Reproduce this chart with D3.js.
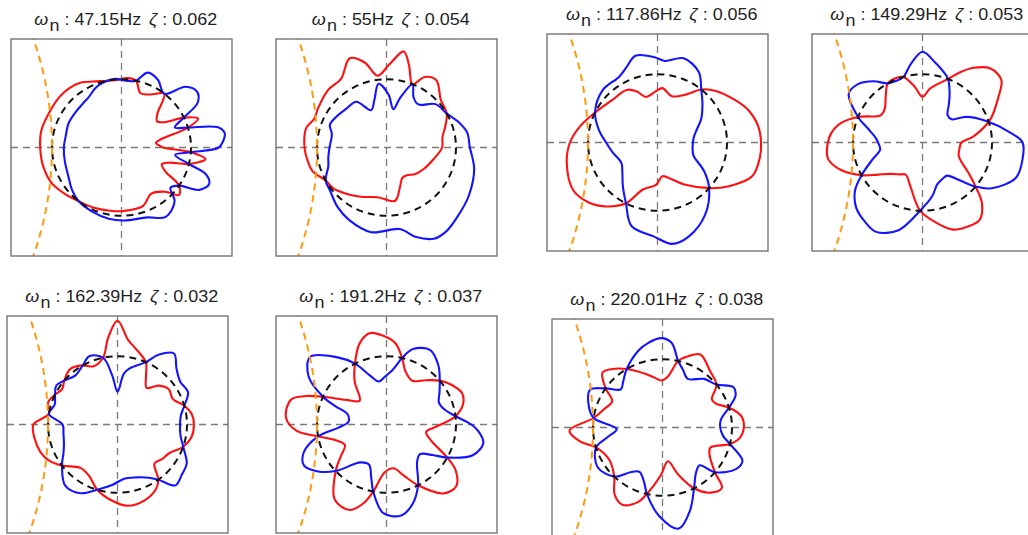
<!DOCTYPE html>
<html>
<head>
<meta charset="utf-8">
<script src="https://cdn.jsdelivr.net/npm/d3@7"></script>
<style>
  html, body { margin: 0; padding: 0; background: #fff; }
  svg { display: block; }
</style>
</head>
<body>
<svg id="chart" width="1028" height="535"></svg>
<script>
// Natural frequency and damping ratio of each identified mode
const freqs   = ["47.15", "55", "117.86", "149.29", "162.39", "191.2", "220.01"];
const damping = ["0.062", "0.054", "0.056", "0.053", "0.032", "0.037", "0.038"];

// Deformed ring of each mode: sample angle (deg, counter-clockwise from +x)
// and radius of the positive-phase shape, undeformed ring radius = 1.
// The opposite phase is the mirror image about the undeformed ring.
const mode1Angle  = [0, 4, 8, 12, 17, 21, 26, 31, 37, 44, 52, 62, 71, 78, 85, 95, 105, 113, 122, 131, 140, 155, 168, 180, 194, 208, 222, 232, 245, 260, 272, 290, 302, 314, 320, 326, 331, 337, 342, 346, 352, 356];
const mode1Radius = [0.60, 0.53, 0.50, 0.58, 1.0, 1.18, 1.0, 0.72, 0.64, 0.72, 1.0, 0.88, 0.84, 1.0, 1.02, 0.99, 1.01, 1.05, 1.12, 1.15, 1.16, 1.16, 1.18, 1.17, 1.16, 1.13, 1.05, 1.0, 0.97, 0.94, 0.93, 0.91, 0.80, 0.90, 1.08, 1.0, 0.72, 0.63, 0.72, 1.0, 1.22, 1.0];

const mode2Angle  = [0, 11, 20, 30, 42, 54, 62, 68, 75, 80, 88, 97, 104, 112, 123, 135, 150, 158, 166, 180, 190, 198, 209, 218, 231, 243, 260, 279, 288, 297, 305, 317, 329, 346];
const mode2Radius = [0.80, 0.82, 0.90, 1.0, 1.05, 1.22, 1.17, 1.0, 1.25, 1.43, 1.22, 1.06, 1.28, 1.41, 1.20, 1.19, 1.14, 1.12, 1.19, 1.18, 1.15, 1.12, 1.0, 0.97, 0.88, 0.81, 0.74, 0.79, 0.62, 0.50, 0.50, 0.57, 0.62, 0.70];

const mode3Angle  = [0, 9, 20, 29, 42, 51, 60, 73, 85, 92, 104, 112, 120, 136, 154, 168, 180, 193, 210, 222, 232, 243, 253, 268, 278, 288, 303, 318, 328, 340, 352];
const mode3Radius = [1.49, 1.47, 1.39, 1.28, 1.13, 1.0, 0.81, 0.71, 0.80, 0.75, 0.69, 0.81, 0.89, 0.90, 1.0, 1.14, 1.26, 1.34, 1.40, 1.32, 1.19, 1.0, 0.72, 0.62, 0.50, 0.55, 0.74, 1.0, 1.21, 1.45, 1.49];

const mode4Angle  = [0, 7, 19, 31, 39, 48, 56, 62, 69, 82, 90, 98, 106, 113, 120, 128, 137, 146, 158, 166, 174, 182, 190, 199, 209, 216, 225, 235, 243, 255, 268, 280, 289, 297, 306, 314, 320, 326, 339, 350];
const mode4Radius = [0.56, 0.74, 1.03, 1.27, 1.46, 1.46, 1.32, 1.17, 0.99, 0.80, 0.67, 0.83, 1.0, 1.02, 1.0, 0.86, 0.74, 0.72, 1.0, 1.20, 1.32, 1.37, 1.38, 1.24, 0.99, 0.80, 0.65, 0.57, 0.53, 0.67, 1.0, 1.20, 1.35, 1.39, 1.40, 1.23, 0.99, 0.80, 0.56, 0.54];

const mode5Angle  = [0, 8, 16, 25, 35, 44, 52, 60, 66, 78, 83, 90, 96, 102, 112, 120, 130, 140, 147, 154, 162, 171, 180, 190, 200, 208, 217, 230, 242, 253, 265, 277, 289, 300, 306, 313, 322, 330, 341, 350];
const mode5Radius = [1.10, 1.08, 1.0, 0.88, 0.90, 0.82, 0.68, 0.82, 1.0, 1.16, 1.25, 1.52, 1.28, 1.0, 0.92, 1.0, 1.06, 1.0, 0.95, 1.0, 1.05, 1.0, 1.21, 1.21, 1.18, 1.12, 1.0, 0.83, 0.86, 1.0, 1.11, 1.20, 1.18, 1.10, 1.0, 0.78, 0.82, 0.85, 1.0, 1.08];

const mode6Angle  = [0, 7, 15, 23, 32, 40, 49, 60, 71, 77, 84, 92, 100, 108, 117, 126, 138, 148, 156, 160, 165, 176, 184, 190, 199, 207, 215, 223, 236, 247, 254, 259, 268, 279, 288, 297, 309, 318, 326, 331, 340, 349, 356];
const mode6Radius = [0.78, 1.0, 1.14, 1.18, 1.10, 1.0, 0.86, 0.74, 0.83, 1.0, 1.20, 1.30, 1.36, 1.25, 1.0, 0.78, 0.52, 0.68, 1.0, 1.22, 1.42, 1.45, 1.30, 1.0, 0.74, 0.67, 0.80, 1.0, 1.33, 1.36, 1.20, 1.0, 0.70, 0.65, 0.78, 1.0, 1.30, 1.35, 1.20, 1.0, 0.68, 0.58, 0.68];

const mode7Angle  = [0, 8, 17, 24, 30, 39, 50, 63, 71, 77, 84, 91, 99, 107, 121, 130, 137, 145, 152, 162, 172, 182, 190, 197, 212, 226, 235, 243, 252, 257, 268, 279, 288, 297, 306, 314, 319, 330, 337, 346, 352];
const mode7Radius = [1.17, 1.15, 1.0, 0.85, 0.82, 1.0, 1.07, 1.20, 1.10, 1.0, 0.75, 0.69, 0.74, 0.82, 1.0, 1.12, 1.18, 1.0, 0.82, 0.88, 1.0, 1.34, 1.20, 1.0, 0.90, 1.0, 1.20, 1.27, 1.15, 1.0, 0.70, 0.50, 0.72, 1.0, 1.18, 1.23, 1.0, 0.78, 0.75, 1.0, 1.12];

const modeAngles = [mode1Angle, mode2Angle, mode3Angle, mode4Angle, mode5Angle, mode6Angle, mode7Angle];
const modeRadii  = [mode1Radius, mode2Radius, mode3Radius, mode4Radius, mode5Radius, mode6Radius, mode7Radius];

// Neighbouring ring (drawn in orange): radius, touching the unit ring from the left
const neighbourRadius = 4.82;

// ---- layout ----
const panelLeft = [11, 276, 547, 812, 7, 276, 552];
const panelTop  = [39, 39, 34, 34, 316, 316, 319];
const W = 221, H = 217, L = 1.59;

const svg = d3.select("#chart");

const x = d3.scaleLinear().domain([-L, L]).range([0, W]);
const y = d3.scaleLinear().domain([-L, L]).range([H, 0]);
const rad = Math.PI / 180;

const ring = d3.line()
  .x(d => x(d.r * Math.cos(d.a * rad)))
  .y(d => y(d.r * Math.sin(d.a * rad)))
  .curve(d3.curveCatmullRomClosed.alpha(0.5));

freqs.forEach((f, i) => {
  const g = svg.append("g").attr("transform", `translate(${panelLeft[i]},${panelTop[i]})`);

  g.append("clipPath").attr("id", "clip" + i)
    .append("rect").attr("width", W).attr("height", H);

  const body = g.append("g").attr("clip-path", `url(#clip${i})`);

  // axis cross
  body.append("line")
    .attr("x1", x(0)).attr("x2", x(0)).attr("y1", 0).attr("y2", H)
    .attr("stroke", "#7a7a7a").attr("stroke-width", 1.3).attr("stroke-dasharray", "7,5");
  body.append("line")
    .attr("x1", 0).attr("x2", W).attr("y1", y(0)).attr("y2", y(0))
    .attr("stroke", "#7a7a7a").attr("stroke-width", 1.3).attr("stroke-dasharray", "7,5");

  const pos = modeAngles[i].map((a, k) => ({ a, r: modeRadii[i][k] }));
  const neg = modeAngles[i].map((a, k) => ({ a, r: 2 - modeRadii[i][k] }));

  body.append("path").attr("d", ring(pos))
    .attr("fill", "none").attr("stroke", "#ff1010").attr("stroke-width", 2.1);
  body.append("path").attr("d", ring(neg))
    .attr("fill", "none").attr("stroke", "#1414ff").attr("stroke-width", 2.1);

  // undeformed ring
  body.append("ellipse")
    .attr("cx", x(0)).attr("cy", y(0))
    .attr("rx", x(1) - x(0)).attr("ry", y(0) - y(1))
    .attr("fill", "none").attr("stroke", "#111").attr("stroke-width", 2)
    .attr("stroke-dasharray", "7,5");

  // neighbouring ring
  body.append("ellipse")
    .attr("cx", x(-1 - neighbourRadius)).attr("cy", y(0))
    .attr("rx", x(neighbourRadius) - x(0)).attr("ry", y(0) - y(neighbourRadius))
    .attr("fill", "none").attr("stroke", "#ff9a10").attr("stroke-width", 2)
    .attr("stroke-dasharray", "7,5");

  // frame
  g.append("rect").attr("width", W).attr("height", H)
    .attr("fill", "none").attr("stroke", "#6a6a6a").attr("stroke-width", 1.3);

  // title
  const t = g.append("text")
    .attr("font-family", "'Liberation Sans', Arial, sans-serif")
    .attr("font-size", 16.5).attr("fill", "#1f1f1f");
  t.append("tspan").attr("font-style", "italic").text("ω");
  t.append("tspan").attr("dy", 6).attr("dx", 1).text("n");
  t.append("tspan").attr("dy", -6).text(" : " + f + "Hz");
  t.append("tspan").attr("dx", 7).attr("font-style", "italic").text("ζ");
  t.append("tspan").text(" : " + damping[i]);
  const tw = t.node().getComputedTextLength();
  const sx = 1.09;
  t.attr("transform", `translate(${x(0) - tw * sx / 2},-14) scale(${sx},1)`);
});
</script>
</body>
</html>
